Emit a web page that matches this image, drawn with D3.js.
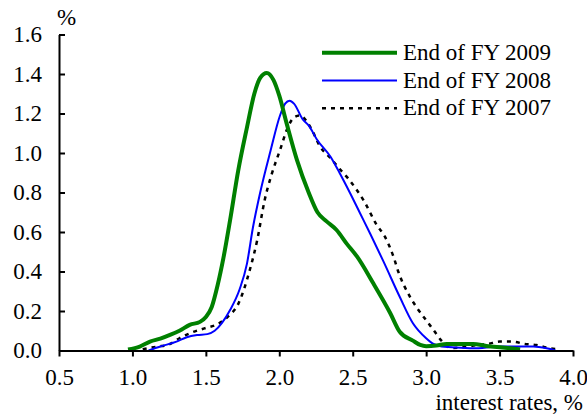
<!DOCTYPE html>
<html>
<head>
<meta charset="utf-8">
<script src="https://cdn.jsdelivr.net/npm/d3@7"></script>
<style>
  body { margin: 0; background: #fff; }
  svg text { font-family: 'Liberation Serif', 'Times New Roman', Times, serif; font-size: 23px; fill: #000; }
</style>
</head>
<body>
<svg width="587" height="414"></svg>
<script>
// interest-rate distribution curves
const fy2009x = [0.97, 1.05, 1.12, 1.19, 1.26, 1.32, 1.39, 1.46, 1.50, 1.54, 1.58, 1.62, 1.665, 1.72, 1.78, 1.83, 1.87, 1.915, 1.96, 2.00, 2.05, 2.12, 2.20, 2.26, 2.32, 2.39, 2.46, 2.53, 2.64, 2.755, 2.82, 2.91, 2.96, 3.00, 3.07, 3.14, 3.23, 3.32, 3.41, 3.52, 3.64];
const fy2009y = [0.005, 0.02, 0.045, 0.06, 0.08, 0.10, 0.13, 0.145, 0.17, 0.22, 0.33, 0.47, 0.66, 0.91, 1.13, 1.30, 1.38, 1.405, 1.37, 1.29, 1.15, 0.965, 0.80, 0.70, 0.655, 0.61, 0.54, 0.475, 0.34, 0.19, 0.095, 0.05, 0.028, 0.022, 0.025, 0.033, 0.033, 0.033, 0.023, 0.015, 0.006];

const fy2008x = [1.11, 1.19, 1.30, 1.37, 1.44, 1.51, 1.56, 1.61, 1.665, 1.73, 1.78, 1.82, 1.87, 1.94, 2.005, 2.04, 2.07, 2.10, 2.16, 2.20, 2.255, 2.35, 2.41, 2.48, 2.55, 2.62, 2.71, 2.82, 2.91, 3.00, 3.05, 3.09, 3.20, 3.32, 3.50, 3.73, 3.82, 3.88];
const fy2008y = [0, 0.02, 0.045, 0.067, 0.078, 0.083, 0.10, 0.14, 0.205, 0.31, 0.44, 0.62, 0.80, 1.01, 1.19, 1.25, 1.265, 1.25, 1.17, 1.14, 1.07, 0.98, 0.90, 0.80, 0.695, 0.59, 0.45, 0.272, 0.138, 0.062, 0.033, 0.023, 0.015, 0.011, 0.02, 0.02, 0.011, 0];

const fy2007x = [1.07, 1.17, 1.24, 1.32, 1.40, 1.49, 1.57, 1.65, 1.72, 1.80, 1.85, 1.90, 1.95, 2.005, 2.06, 2.10, 2.14, 2.21, 2.28, 2.35, 2.41, 2.47, 2.53, 2.58, 2.66, 2.72, 2.78, 2.81, 2.89, 2.94, 2.99, 3.05, 3.11, 3.17, 3.25, 3.35, 3.42, 3.50, 3.59, 3.67, 3.75, 3.83, 3.91];
const fy2007y = [0.007, 0.02, 0.028, 0.062, 0.09, 0.112, 0.13, 0.171, 0.235, 0.41, 0.56, 0.76, 0.897, 1.015, 1.133, 1.18, 1.19, 1.133, 1.03, 0.973, 0.92, 0.87, 0.81, 0.753, 0.64, 0.575, 0.47, 0.40, 0.272, 0.213, 0.163, 0.104, 0.045, 0.013, 0.016, 0.028, 0.033, 0.045, 0.045, 0.033, 0.028, 0.013, 0.006];

const xTicks = [0.5, 1.0, 1.5, 2.0, 2.5, 3.0, 3.5, 4.0];
const yTicks = [0, 0.2, 0.4, 0.6, 0.8, 1.0, 1.2, 1.4, 1.6];
const seriesNames = ["End of FY 2009", "End of FY 2008", "End of FY 2007"];

const FONT = "'Liberation Serif', 'Times New Roman', Times, serif";

const svg = d3.select("svg")
  .attr("font-family", FONT)
  .attr("font-size", 23);

const x = d3.scaleLinear().domain([0.5, 4.0]).range([59, 573]);
const y = d3.scaleLinear().domain([0, 1.6]).range([350.5, 34.5]);

const series = [
  { name: seriesNames[0], xs: fy2009x, ys: fy2009y, color: "#008000", width: 4, dash: null },
  { name: seriesNames[1], xs: fy2008x, ys: fy2008y, color: "#0000ff", width: 2, dash: null },
  { name: seriesNames[2], xs: fy2007x, ys: fy2007y, color: "#000", width: 2.5, dash: "4,5" }
];

const line = d3.line()
  .x(d => x(d[0]))
  .y(d => y(d[1]))
  .curve(d3.curveMonotoneX);

// draw oldest first so green ends on top
svg.append("g")
  .selectAll("path")
  .data(series.slice().reverse())
  .join("path")
  .attr("fill", "none")
  .attr("stroke", d => d.color)
  .attr("stroke-width", d => d.width)
  .attr("stroke-dasharray", d => d.dash)
  .attr("stroke-linejoin", "round")
  .attr("d", d => line(d.xs.map((v, i) => [v, d.ys[i]])));

// y axis, ticks pointing inward
const yAxis = svg.append("g")
  .attr("transform", "translate(59,0)")
  .call(d3.axisLeft(y).tickValues(yTicks).tickSizeInner(-6).tickSizeOuter(0).tickPadding(17).tickFormat(d3.format(".1f")));

// x axis, ticks pointing down
const xAxis = svg.append("g")
  .attr("transform", "translate(0,350.5)")
  .call(d3.axisBottom(x).tickValues(xTicks).tickSize(6).tickSizeOuter(0).tickPadding(12).tickFormat(d3.format(".1f")));

[yAxis, xAxis].forEach(ax => {
  ax.attr("font-family", FONT).attr("font-size", 23);
  ax.select(".domain").attr("stroke", "#000").attr("stroke-width", 2);
  ax.selectAll(".tick line").attr("stroke", "#000").attr("stroke-width", 2);
  ax.selectAll(".tick text").attr("fill", "#000");
});

svg.append("text")
  .attr("x", 57)
  .attr("y", 25)
  .text("%");

svg.append("text")
  .attr("x", 583)
  .attr("y", 410)
  .attr("text-anchor", "end")
  .text("interest rates, %");

// legend
const legend = svg.append("g")
  .selectAll("g")
  .data(series)
  .join("g")
  .attr("transform", (d, i) => `translate(322,${52.7 + i * 27.8})`);

legend.append("line")
  .attr("x1", 0)
  .attr("x2", 75)
  .attr("stroke", d => d.color)
  .attr("stroke-width", d => d.width)
  .attr("stroke-dasharray", d => d.dash);

legend.append("text")
  .attr("x", 81)
  .attr("y", 7)
  .text(d => d.name);
</script>
</body>
</html>
